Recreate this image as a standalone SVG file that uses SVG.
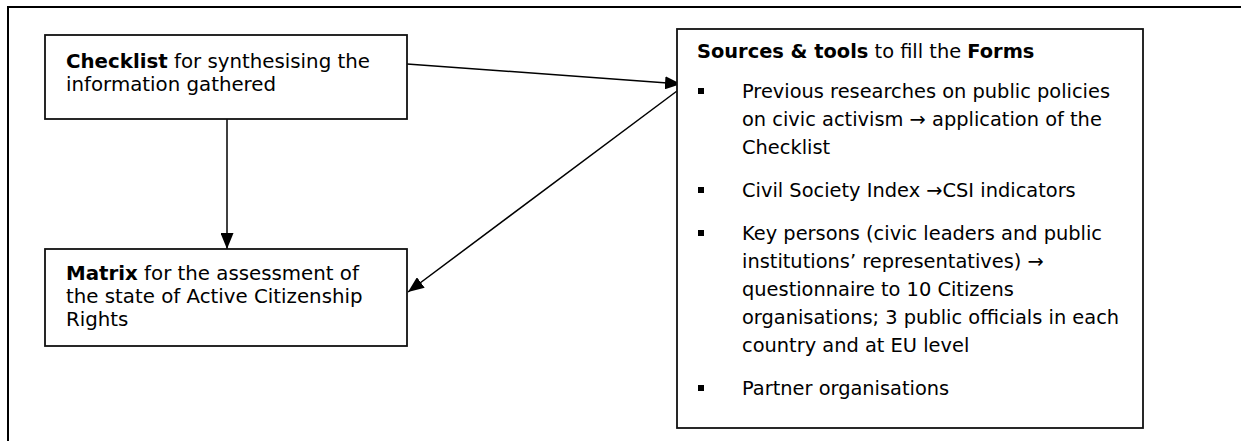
<svg xmlns="http://www.w3.org/2000/svg" width="1241" height="441" viewBox="0 0 1241 441">
<style>
text{font-family:"DejaVu Sans","Verdana","Liberation Sans",sans-serif;font-size:19.4px;fill:#000}
.l{font-size:19.8px}
.b{font-weight:bold}
.box{fill:#fff;stroke:#111;stroke-width:1.8}
.frame{fill:none;stroke:#000;stroke-width:2}
.con{fill:none;stroke:#000;stroke-width:1.5}
.bul{fill:#000}
</style>
<defs>
<marker id="ah" markerUnits="userSpaceOnUse" markerWidth="17" markerHeight="13" refX="16" refY="6.5" orient="auto">
<path d="M0,0 L16,6.5 L0,13 Z" fill="#000"/>
</marker>
</defs>
<g id="frame">
<path class="frame" d="M8,441 L8,7 L1241,7"/>
</g>
<g id="connectors">
<line class="con" x1="407" y1="64" x2="681" y2="84" marker-end="url(#ah)"/>
<line class="con" x1="677" y1="91" x2="408" y2="292" marker-end="url(#ah)"/>
<line class="con" x1="227" y1="119" x2="227" y2="249" marker-end="url(#ah)"/>
</g>
<g id="checklist">
<rect class="box" x="45" y="35" width="362" height="84"/>
<text class="l" x="66" y="68"><tspan class="b">Checklist</tspan> for synthesising the</text>
<text class="l" x="66" y="91">information gathered</text>
</g>
<g id="matrix">
<rect class="box" x="45" y="249" width="362" height="97"/>
<text class="l" x="66" y="280"><tspan class="b">Matrix</tspan> for the assessment of</text>
<text class="l" x="66" y="303">the state of Active Citizenship</text>
<text class="l" x="66" y="326">Rights</text>
</g>
<g id="sources">
<rect class="box" x="677" y="29" width="466" height="399"/>
<text x="697" y="58"><tspan class="b">Sources &amp; tools</tspan> to fill the <tspan class="b">Forms</tspan></text>
<rect class="bul" x="698" y="88" width="6" height="6"/>
<text x="742" y="98">Previous researches on public policies</text>
<text x="742" y="126">on civic activism → application of the</text>
<text x="742" y="154">Checklist</text>
<rect class="bul" x="698" y="187" width="6" height="6"/>
<text x="742" y="197">Civil Society Index →CSI indicators</text>
<rect class="bul" x="698" y="230" width="6" height="6"/>
<text x="742" y="240">Key persons (civic leaders and public</text>
<text x="742" y="268">institutions’ representatives) →</text>
<text x="742" y="296">questionnaire to 10 Citizens</text>
<text x="742" y="324">organisations; 3 public officials in each</text>
<text x="742" y="352">country and at EU level</text>
<rect class="bul" x="698" y="385" width="6" height="6"/>
<text x="742" y="395">Partner organisations</text>
</g>
</svg>
